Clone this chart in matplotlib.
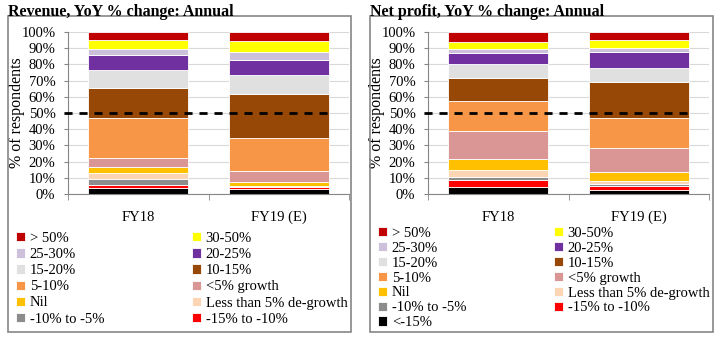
import matplotlib.pyplot as plt
from matplotlib.patches import Rectangle

plt.rcParams['font.family'] = ['Liberation Serif', 'DejaVu Serif']

# Survey buckets, bottom of the stack first
years = ["FY18", "FY19 (E)"]
buckets = ["<-15%", "-15% to -10%", "-10% to -5%", "Less than 5% de-growth", "Nil",
           "<5% growth", "5-10%", "10-15%", "15-20%", "20-25%", "25-30%", "30-50%", "> 50%"]
colors = ["#000000", "#FF0000", "#8C8C8C", "#FCD5B4", "#FFC000", "#DA9694", "#F79646",
          "#974706", "#E0E0E0", "#7030A0", "#CCC0DA", "#FFFF00", "#C00000"]

revenue_fy18 = [3.7, 2.0, 3.3, 3.7, 3.7, 5.6, 25.0, 18.7, 11.0, 9.1, 3.9, 5.3, 5.0]
revenue_fy19 = [2.8, 1.8, 0.0, 0.6, 2.2, 6.5, 20.5, 27.6, 11.6, 9.3, 4.7, 6.9, 5.5]
profit_fy18 = [4.3, 4.5, 2.0, 3.9, 6.7, 17.3, 18.7, 14.2, 8.9, 6.3, 3.0, 4.1, 6.1]
profit_fy19 = [2.6, 2.2, 1.6, 1.4, 5.9, 14.8, 18.7, 22.0, 8.3, 10.0, 2.6, 4.9, 4.9]

majority = 50
W, H = 720, 338


def draw_panel(ax, fy18, fy19, with_bottom_bucket):
    x = range(len(years))
    bottoms = [0, 0]
    handles = []
    for i, name in enumerate(buckets):
        vals = [fy18[i], fy19[i]]
        bars = ax.bar(x, vals, bottom=bottoms, width=0.71, color=colors[i],
                      edgecolor='white', linewidth=0.6, label=name)
        handles.append(bars)
        bottoms = [b + v for b, v in zip(bottoms, vals)]

    ax.plot([-0.53, 1.39], [majority, majority], color='black', lw=2,
            dashes=(2.9, 2.5), clip_on=False, zorder=5)

    ax.set_xlim(-0.49, 1.5)
    ax.set_ylim(0, 100)
    ax.set_yticks(range(0, 101, 10))
    ax.set_yticklabels([f"{v}%" for v in range(0, 101, 10)], fontsize=10.5)
    ax.set_xticks(list(x))
    ax.set_xticklabels(years, fontsize=10.5)
    ax.set_xticks([-0.5, 0.5, 1.5], minor=True)
    ax.tick_params(axis='x', which='major', length=0, pad=12)
    ax.tick_params(axis='x', which='minor', length=4, color='#868686')
    ax.tick_params(axis='y', length=3, color='#868686', pad=6)
    ax.grid(axis='y', color='#D9D9D9', lw=0.8)
    ax.set_axisbelow(True)
    for side in ('top', 'right'):
        ax.spines[side].set_visible(False)
    for side in ('left', 'bottom'):
        ax.spines[side].set_color('#868686')
        ax.spines[side].set_linewidth(0.8)
    ax.set_ylabel("% of respondents", fontsize=11.5)
    ax.yaxis.set_label_coords(-0.153, 0.5)

    # legend reads row by row from the top of the stack
    order = handles[::-1]
    names = buckets[::-1]
    if not with_bottom_bucket:
        order, names = order[:-1], names[:-1]
    order = order[0::2] + order[1::2]
    names = names[0::2] + names[1::2]
    return order, names


fig = plt.figure(figsize=(W / 100, H / 100), dpi=100)

panels = [
    ("Revenue, YoY % change: Annual", revenue_fy18, revenue_fy19, False, 8, 68, 232, 17.0),
    ("Net profit, YoY % change: Annual", profit_fy18, profit_fy19, True, 370, 428, 227, 15.8),
]

for title, fy18, fy19, full, frame_x, ax_x, top, row_h in panels:
    fig.add_artist(Rectangle((frame_x / W, 6 / H), 343 / W, 316 / H, transform=fig.transFigure,
                             fill=False, edgecolor='#868686', lw=1.2))
    fig.text(frame_x / W, 1 - 12 / H, title, fontsize=11.5, fontweight='bold',
             ha='left', va='center')
    ax = fig.add_axes([ax_x / W, 144 / H, 281 / W, 162 / H])
    hs, ls = draw_panel(ax, fy18, fy19, full)
    fig.legend(hs, ls, ncol=2, loc='upper left',
               bbox_to_anchor=((frame_x + 8) / W, 1 - top / H),
               frameon=False, fontsize=10.5, handlelength=0.6, handleheight=0.6,
               handletextpad=0.35, columnspacing=6.0, borderpad=0, borderaxespad=0,
               labelspacing=(row_h - 14) / 14)

fig.savefig("out.png", dpi=100)
